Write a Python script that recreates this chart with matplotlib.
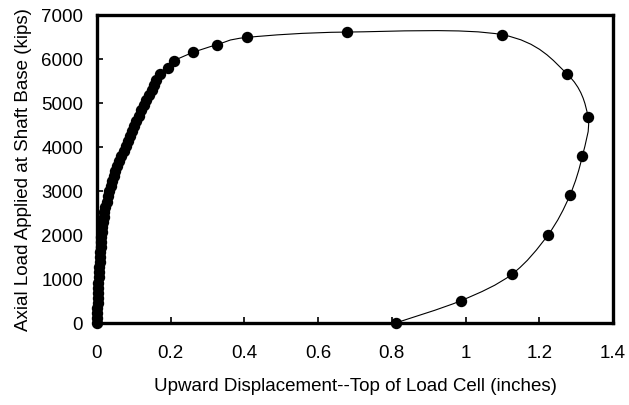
import matplotlib
matplotlib.use("Agg")
import matplotlib.pyplot as plt
from matplotlib.path import Path
from matplotlib.patches import PathPatch
import numpy as np

plt.rcParams['font.family'] = ['Liberation Sans', 'DejaVu Sans']

# Upward displacement (inches) and axial load (kips)
displacement = [
    0.000, 0.000, 0.001, 0.001, 0.002, 0.002, 0.003, 0.004, 0.004, 0.005,
    0.006, 0.006, 0.007, 0.008, 0.009, 0.010, 0.011, 0.012, 0.013, 0.014,
    0.016, 0.018, 0.020, 0.023, 0.026, 0.029, 0.033, 0.037, 0.041, 0.045,
    0.049, 0.054, 0.060, 0.066, 0.072, 0.078, 0.083, 0.089, 0.095, 0.100,
    0.106, 0.113, 0.120, 0.127, 0.134, 0.141, 0.148, 0.155, 0.161,
    0.172, 0.193, 0.210, 0.261, 0.325, 0.408, 0.678,
    1.100, 1.276, 1.332, 1.317, 1.283, 1.224, 1.126, 0.988, 0.810,
]
load = [
    0, 115, 230, 345, 460, 575, 690, 805, 920, 1035,
    1150, 1265, 1380, 1495, 1610, 1725, 1840, 1955, 2070, 2185,
    2300, 2415, 2530, 2645, 2760, 2875, 2990, 3105, 3220, 3335,
    3450, 3565, 3680, 3795, 3910, 4025, 4140, 4255, 4370, 4485,
    4600, 4715, 4830, 4945, 5060, 5175, 5290, 5405, 5520,
    5670, 5784, 5958, 6149, 6323, 6491, 6612,
    6550, 5654, 4689, 3800, 2903, 2006, 1110, 509, 0,
]

x_ticks = [0, 0.2, 0.4, 0.6, 0.8, 1, 1.2, 1.4]
x_tick_labels = ['0', '0.2', '0.4', '0.6', '0.8', '1', '1.2', '1.4']
y_ticks = [0, 1000, 2000, 3000, 4000, 5000, 6000, 7000]


def smooth_path(xs, ys):
    # Excel style smoothed line: Bezier segments with Catmull-Rom control points
    pts = np.column_stack([xs, ys]).astype(float)
    n = len(pts)
    verts = [pts[0]]
    codes = [Path.MOVETO]
    for i in range(n - 1):
        p0 = pts[i - 1] if i > 0 else pts[i]
        p1 = pts[i]
        p2 = pts[i + 1]
        p3 = pts[i + 2] if i + 2 < n else pts[i + 1]
        c1 = p1 + (p2 - p0) / 6.0
        c2 = p2 - (p3 - p1) / 6.0
        verts += [c1, c2, p2]
        codes += [Path.CURVE4] * 3
    return Path(verts, codes)


fig = plt.figure(figsize=(6.29, 4.06), dpi=100)
ax = fig.add_axes([0.1542, 0.2020, 0.8204, 0.7586])

ax.add_patch(PathPatch(smooth_path(displacement, load), facecolor='none',
                       edgecolor='black', linewidth=0.8, zorder=2))
ax.plot(displacement, load, linestyle='none', marker='o', markersize=7.2,
        color='black', zorder=3, clip_on=False)

ax.set_xlim(0, 1.4)
ax.set_ylim(0, 7000)
ax.set_xticks(x_ticks)
ax.set_xticklabels(x_tick_labels)
ax.set_yticks(y_ticks)

for s in ax.spines.values():
    s.set_linewidth(2.4)
ax.tick_params(direction='in', length=4, width=1.2, labelsize=13.5)
ax.tick_params(axis='x', pad=15)
ax.tick_params(axis='y', pad=10)

ax.set_xlabel('Upward Displacement--Top of Load Cell (inches)', fontsize=13.5, labelpad=12)
ax.set_ylabel('Axial Load Applied at Shaft Base (kips)', fontsize=13.5, labelpad=6.5)

fig.savefig('out.png', dpi=100)
